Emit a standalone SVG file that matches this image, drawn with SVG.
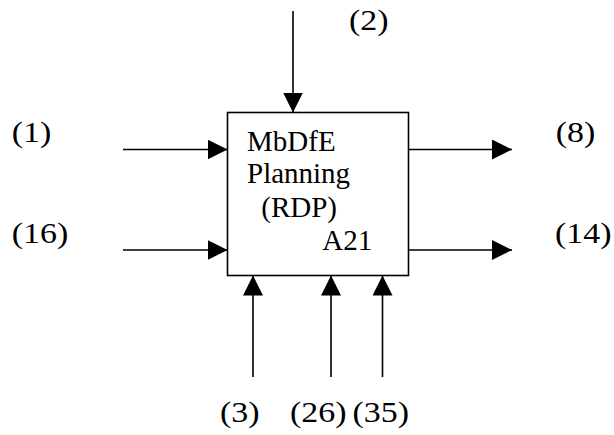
<svg xmlns="http://www.w3.org/2000/svg" width="614" height="435" viewBox="0 0 614 435">
<style>
text{font-family:"Liberation Serif","Times New Roman",serif;font-size:29px;fill:#000}
.c line{stroke:#000;stroke-width:1.6;marker-end:url(#ah)}
</style>
<defs>
<marker id="ah" markerUnits="userSpaceOnUse" markerWidth="20" markerHeight="20" refX="20" refY="10" orient="auto" viewBox="0 0 20 20">
<path d="M0,0 L20,10 L0,20 z" fill="#000"/>
</marker>
</defs>
<rect width="614" height="435" fill="#fff"/>
<g id="A21">
<rect x="227.5" y="112.5" width="181" height="163" fill="#fff" stroke="#000" stroke-width="1.6"/>
<text x="247" y="150.5">MbDfE</text>
<text x="247" y="183">Planning</text>
<text x="261.3" y="217">(RDP)</text>
<text x="322.3" y="250">A21</text>
</g>
<g class="c" id="connectors">
<line x1="293" y1="11" x2="293" y2="112.5"/>
<line x1="123" y1="149.5" x2="227.5" y2="149.5"/>
<line x1="123" y1="250" x2="227.5" y2="250"/>
<line x1="408.5" y1="149.5" x2="512" y2="149.5"/>
<line x1="408.5" y1="250" x2="512" y2="250"/>
<line x1="253" y1="377" x2="253" y2="275.5"/>
<line x1="331" y1="377" x2="331" y2="275.5"/>
<line x1="382.5" y1="377" x2="382.5" y2="275.5"/>
</g>
<g id="labels">
<text x="349" y="29.5" textLength="39.6" lengthAdjust="spacingAndGlyphs">(2)</text>
<text x="11.7" y="142" textLength="39.6" lengthAdjust="spacingAndGlyphs">(1)</text>
<text x="11.7" y="242.5" textLength="56.5" lengthAdjust="spacingAndGlyphs">(16)</text>
<text x="555.7" y="142" textLength="39.6" lengthAdjust="spacingAndGlyphs">(8)</text>
<text x="555" y="242.5" textLength="56.5" lengthAdjust="spacingAndGlyphs">(14)</text>
<text x="220" y="421.5" textLength="39.6" lengthAdjust="spacingAndGlyphs">(3)</text>
<text x="290" y="421.5" textLength="56.5" lengthAdjust="spacingAndGlyphs">(26)</text>
<text x="352.5" y="421.5" textLength="56.5" lengthAdjust="spacingAndGlyphs">(35)</text>
</g>
</svg>
